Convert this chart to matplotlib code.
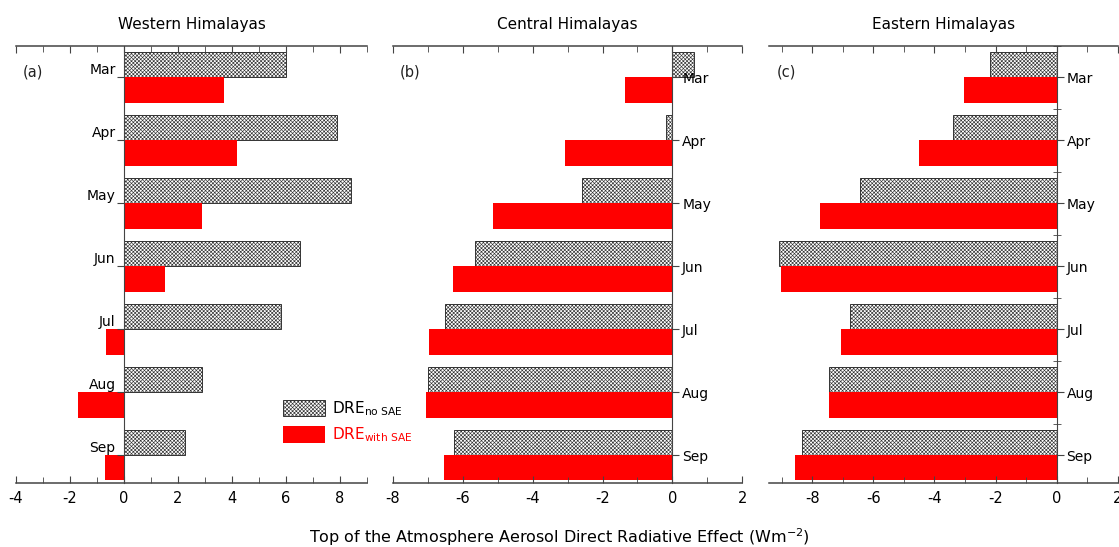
import numpy as np
import matplotlib.pyplot as plt
from matplotlib.patches import Patch
from matplotlib.ticker import MultipleLocator

months = ["Mar", "Apr", "May", "Jun", "Jul", "Aug", "Sep"]

# DRE without snow albedo effect (gray hatched) and with SAE (red), W m-2
west_no_sae = [6.0, 7.9, 8.4, 6.5, 5.8, 2.9, 2.25]
west_with_sae = [3.7, 4.2, 2.9, 1.5, -0.65, -1.72, -0.7]
central_no_sae = [0.62, -0.19, -2.6, -5.65, -6.5, -7.0, -6.25]
central_with_sae = [-1.37, -3.07, -5.14, -6.27, -6.95, -7.04, -6.53]
east_no_sae = [-2.2, -3.4, -6.45, -9.08, -6.75, -7.45, -8.33]
east_with_sae = [-3.05, -4.5, -7.75, -9.02, -7.05, -7.45, -8.55]

titles = ["Western Himalayas", "Central Himalayas", "Eastern Himalayas"]
tags = ["(a)", "(b)", "(c)"]
xlims = [(-4, 9), (-8, 2), (-9.4, 2)]

plt.rcParams['hatch.linewidth'] = 0.45
plt.rcParams['font.family'] = 'DejaVu Sans'
plt.rcParams['axes.unicode_minus'] = False

HATCH = 'xxxxxxxxx'

fig = plt.figure(figsize=(11.19, 5.47), dpi=100)
rects = [[0.0143, 0.117, 0.3137, 0.799],
         [0.351, 0.117, 0.3124, 0.799],
         [0.6875, 0.117, 0.3116, 0.799]]

data = [(west_no_sae, west_with_sae),
        (central_no_sae, central_with_sae),
        (east_no_sae, east_with_sae)]

y = np.arange(len(months))
h = 0.40
axc = '#444444'

for k, (no_sae, with_sae) in enumerate(data):
    ax = fig.add_axes(rects[k])
    ax.patch.set_alpha(0)
    ax.barh(y - h / 2, no_sae, height=h, color='white', edgecolor='#333333',
            hatch=HATCH, linewidth=0.7)
    ax.barh(y + h / 2, with_sae, height=h, color='#ff0000', edgecolor='none')

    ax.set_xlim(*xlims[k])
    ax.set_ylim(6.44, -0.5)
    ax.xaxis.set_major_locator(MultipleLocator(2))
    ax.xaxis.set_minor_locator(MultipleLocator(1))
    ax.tick_params(axis='x', which='both', direction='in', top=True,
                   labeltop=False, color=axc, labelsize=10.5, pad=6)
    ax.tick_params(axis='x', which='major', length=5)
    ax.tick_params(axis='x', which='minor', length=4)

    for s in ['top', 'bottom']:
        ax.spines[s].set_color(axc)
        ax.spines[s].set_linewidth(1.1)

    ax.set_yticks(y)
    ax.set_yticklabels(months)
    if k == 0:
        ax.spines['left'].set_position(('data', 0))
        ax.spines['right'].set_visible(False)
        ax.spines['left'].set_color(axc)
        ax.tick_params(axis='y', direction='out', length=5, color=axc,
                       labelsize=10, pad=1)
        for t in ax.get_yticklabels():
            t.set_verticalalignment('bottom')
    else:
        ax.spines['right'].set_position(('data', 0))
        ax.spines['left'].set_visible(False)
        ax.spines['right'].set_color(axc)
        ax.yaxis.tick_right()
        ax.tick_params(axis='y', direction='out', length=5, color=axc,
                       labelsize=10, pad=2)
        if k == 2:
            ax.yaxis.set_minor_locator(MultipleLocator(1, offset=0.5))
            ax.tick_params(axis='y', which='minor', direction='inout',
                           length=6, color=axc, right=True)

    ax.set_title(titles[k], fontsize=11, pad=12)
    ax.text(0.02, 0.93, tags[k], transform=ax.transAxes, fontsize=10.5,
            color='#222222')

handles = [Patch(facecolor='white', edgecolor='#333333', hatch=HATCH,
                 linewidth=0.7),
           Patch(facecolor='#ff0000', edgecolor='none')]
leg = fig.legend(handles, [r"DRE$_{\mathregular{no\ SAE}}$",
                           r"DRE$_{\mathregular{with\ SAE}}$"],
                 loc='upper left', bbox_to_anchor=(0.2526, 0.2706),
                 frameon=False, fontsize=11, handlelength=2.8,
                 handleheight=1.3, handletextpad=0.4, labelspacing=0.5,
                 borderpad=0, borderaxespad=0)
leg.get_texts()[1].set_color('#ff0000')

fig.text(0.5, 0.008, r"Top of the Atmosphere Aerosol Direct Radiative Effect (Wm$^{-2}$)",
         ha='center', fontsize=11.5)

fig.savefig('out.png', dpi=100)
